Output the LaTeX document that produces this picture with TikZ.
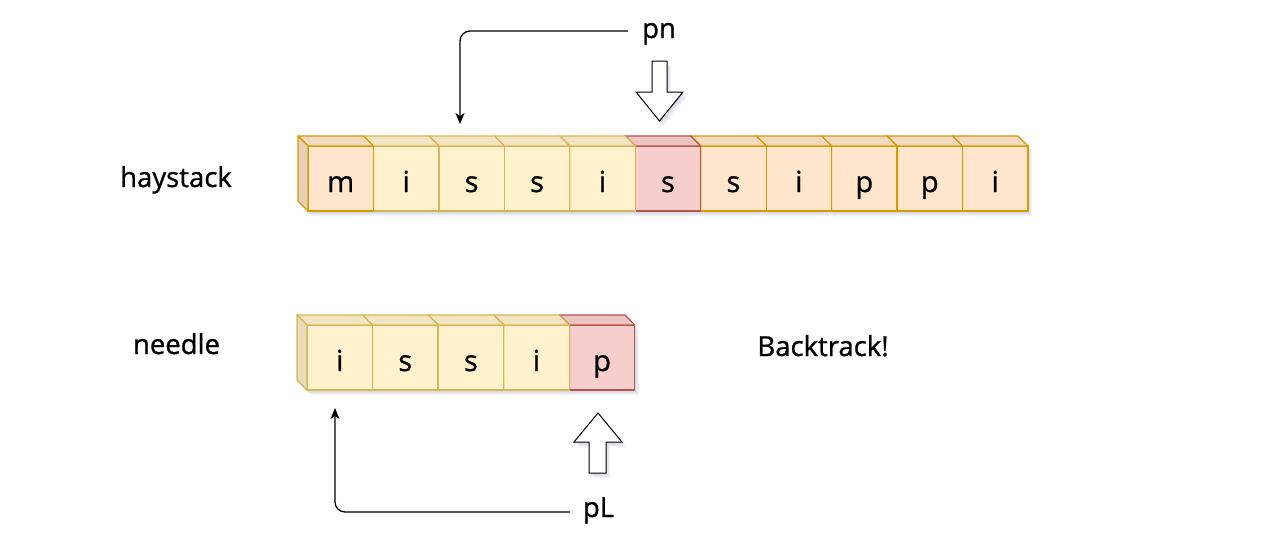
\documentclass[tikz,border=0pt]{standalone}
\usepackage{fontspec}
\setmainfont{Open Sans}[FakeBold=0.9]
\usetikzlibrary{arrows.meta}
\definecolor{orF}{HTML}{FFE6CC}\definecolor{orD}{HTML}{D79B00}
\definecolor{yeF}{HTML}{FFF2CC}\definecolor{yeD}{HTML}{D6B656}
\definecolor{reF}{HTML}{F8CECC}\definecolor{reD}{HTML}{B85450}
\definecolor{shad}{HTML}{8C96B4}
\tikzset{
  cubefront/.style={draw=#1D, fill=#1F, line width=1.2pt, anchor=north west,
    minimum width=65.45pt, minimum height=65pt, inner sep=0pt, outer sep=0pt,
    text height=27pt, text depth=0pt, font=\fontsize{29}{32}\selectfont},
  cubetop/.style={draw=#1D, fill=#1F!95!black, line width=1.2pt, line join=round},
  cubeside/.style={draw=#1D, fill=#1F!91!black, line width=1.2pt, line join=round},
  lbl/.style={inner sep=0pt, font=\fontsize{27.5}{32}\selectfont},
  conn/.style={line width=1.3pt, rounded corners=10pt, -{Stealth[length=11pt,width=9pt,inset=3pt]}},
  blockarrow/.style={draw=black, fill=white, line width=1pt, line join=miter},
  shadowlayer/.style={fill=shad, opacity=0.09}
}
\begin{document}
\begin{tikzpicture}[x=1pt,y=-1pt]
\useasboundingbox[fill=white] (0,0) rectangle (1280,546);
% soft shadows
\foreach \d in {1,2,3,4}{
  \fill[shadowlayer] (298+\d,136+\d+1) -- (1018+\d,136+\d+1) -- (1028+\d,146+\d+1) -- (1028+\d,211+\d+1) -- (308+\d,211+\d+1) -- (298+\d,201+\d+1) -- cycle;
  \fill[shadowlayer] (297+\d,315+\d+1) -- (625+\d,315+\d+1) -- (635+\d,325+\d+1) -- (635+\d,390+\d+1) -- (307+\d,390+\d+1) -- (297+\d,380+\d+1) -- cycle;
  \fill[shadowlayer] (652+\d,61+\d+1) -- (667+\d,61+\d+1) -- (667+\d,92+\d+1) -- (683+\d,92+\d+1) -- (659.5+\d,121+\d+1) -- (636+\d,92+\d+1) -- (652+\d,92+\d+1) -- cycle;
  \fill[shadowlayer] (589+\d,473+\d+1) -- (606+\d,473+\d+1) -- (606+\d,442+\d+1) -- (622+\d,442+\d+1) -- (598+\d,413+\d+1) -- (574+\d,442+\d+1) -- (589+\d,442+\d+1) -- cycle;
}
% haystack cubes (drawn right to left)
\foreach \k/\l/\c in {11/i/or,10/p/or,9/p/or,8/i/or,7/s/or,6/s/re,5/i/ye,4/s/ye,3/s/ye,2/i/ye,1/m/or}{
  \pgfmathsetmacro\xx{308+65.45*(\k-1)}
  \node[cubefront=\c] (h\k) at (\xx,146) {\l};
  \draw[cubetop=\c] (h\k.north west) -- ++(-10,-10) -- ++(65.45,0) -- (h\k.north east) -- cycle;
  \draw[cubeside=\c] (h\k.north west) -- ++(-10,-10) -- ++(0,65) -- (h\k.south west) -- cycle;
}
% needle cubes
\foreach \k/\l/\c in {5/p/re,4/i/ye,3/s/ye,2/s/ye,1/i/ye}{
  \pgfmathsetmacro\xx{307+65.6*(\k-1)}
  \node[cubefront=\c] (n\k) at (\xx,325) {\l};
  \draw[cubetop=\c] (n\k.north west) -- ++(-10,-10) -- ++(65.6,0) -- (n\k.north east) -- cycle;
  \draw[cubeside=\c] (n\k.north west) -- ++(-10,-10) -- ++(0,65) -- (n\k.south west) -- cycle;
}
% labels
\node[lbl, anchor=base] (hay) at (176,187) {haystack};
\node[lbl, anchor=base] (ndl) at (176.5,354) {needle};
\node[lbl, anchor=base] (bt) at (823,356) {Backtrack!};
\node[lbl, anchor=base, text height=14pt, text depth=0pt, minimum width=62pt] (pn) at (659,38) {pn};
\node[lbl, anchor=base, text height=10pt, text depth=0pt, minimum width=57pt] (pL) at (598.5,517) {pL};
% connectors
\coordinate (pntip) at (460,124);
\coordinate (pLtip) at (335,408);
\draw[conn] (pn.west) -| (pntip);
\draw[conn] (pL.west) -| (pLtip);
% block arrows
\draw[blockarrow] (652,61) -- (667,61) -- (667,92) -- (683,92) -- (659.5,121) -- (636,92) -- (652,92) -- cycle;
\draw[blockarrow] (589,473) -- (606,473) -- (606,442) -- (622,442) -- (598,413) -- (574,442) -- (589,442) -- cycle;
\end{tikzpicture}
\end{document}
